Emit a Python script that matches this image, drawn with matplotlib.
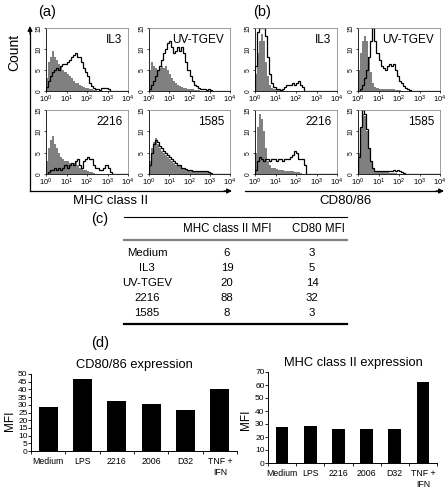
import numpy as np
import matplotlib
matplotlib.use("Agg")
import matplotlib.pyplot as plt

plt.rcParams['font.family'] = ['Liberation Sans', 'DejaVu Sans']
plt.rcParams['mathtext.fontset'] = 'custom'
plt.rcParams['mathtext.rm'] = 'Liberation Sans'
plt.rcParams['mathtext.it'] = 'Liberation Sans'

W, H = 448, 488

# ---- histogram data (counts per 0.1 decade bin, 10^0 .. 10^4) ----
nbins = 40
edges = 10 ** np.linspace(0, 4, nbins + 1)

a_il3_gray = [3, 7, 8, 9.5, 8, 7.5, 6.5, 6, 5, 4.5, 4, 3.5, 3, 2.5, 2, 1.8, 1.5, 1.2, 1, 0.8, 0.6, 0.5, 0.4, 0.3, 0.2]
a_il3_black = [1, 2.5, 3.5, 4.5, 5, 5.5, 5, 6, 6.5, 6.5, 7, 7.5, 8, 8.5, 9, 8, 8, 7, 5.5, 4.5, 3.5, 2, 1.2, 0.8, 0.5, 0.5, 0.3, 0.8, 0.8, 0.8, 0.5]
a_uv_gray = [5, 7, 6, 5.5, 5, 5.5, 6, 5.5, 6, 5, 4, 3, 2.5, 2, 1.5, 1.2, 1, 0.8, 0.6, 0.5, 0.5, 0.4, 0.3, 0.3, 0.2]
a_uv_black = [0.5, 1.5, 2.5, 3.5, 5, 6, 7.5, 9, 10, 11.5, 12, 10.5, 9, 9.5, 10.5, 9.5, 10.5, 9, 7, 5, 3.5, 2.5, 1.5, 1.2, 0.8, 0.5, 0.5, 0.5, 0.3, 0.5, 0.3]
a_2216_gray = [3, 6, 8, 9, 7, 6, 5, 4, 3.5, 3, 3, 2.5, 2, 2.5, 3, 2, 1.5, 1.5, 1, 1, 0.8, 0.5, 0.5, 0.3]
a_2216_black = [0, 0.5, 1, 1, 1.5, 1, 1.5, 1, 1.5, 2, 1.5, 2, 2.5, 2, 3, 3.5, 2, 1.5, 3, 3.5, 4, 3.5, 3.5, 2, 1.5, 1.5, 1, 1, 1.5, 2, 1.5, 0.5]
a_1585_gray = [3, 6, 7.5, 8.5, 7, 6, 5.5, 5, 4.5, 4, 3.5, 3, 2.5, 2.2, 2, 1.8, 1.5, 1.2, 1, 1, 0.8, 0.7, 0.6, 0.6, 0.5, 0.5, 0.5, 0.4, 0.4, 0.3]
a_1585_black = [2, 5, 7, 8, 7.5, 6.5, 6, 5.5, 5, 4.5, 4, 3.5, 3, 2.5, 2, 2, 1.5, 1.5, 1.2, 1, 1, 0.8, 0.8, 0.8, 0.8, 0.6, 0.8, 0.8, 0.6, 0.5, 0.3]

b_il3_gray = [4, 9, 12, 13.5, 12, 7, 3.5, 1.5, 0.8, 0.5, 0.4, 0.3, 0.3, 0.2]
b_il3_black = [6, 14, 15, 15, 15, 13, 8, 4, 2, 1, 0.5, 0.5, 0.3, 0.5, 1, 1.5, 1.5, 1.5, 2, 1.5, 2, 2.5, 1.5, 1]
b_uv_gray = [5, 9, 12, 13, 12, 8, 4.5, 2, 1, 0.7, 0.5, 0.5, 0.5, 0.4, 0.5, 0.5, 0.4, 0.4, 0.3, 0.3, 0.3]
b_uv_black = [0, 0.5, 1.5, 3, 5, 8, 12, 15, 12, 9, 7.5, 6, 5.5, 5, 6, 6.5, 6, 6.5, 5, 3.5, 2.5, 1.8, 1.2, 0.8, 0.5, 0.3]
b_2216_gray = [5, 11, 14, 13, 10, 6, 3, 2, 1.5, 1.5, 1.2, 1, 1, 1, 0.8, 0.8, 0.8, 0.6, 0.6, 0.5, 0.5, 0.4, 0.3]
b_2216_black = [1, 3, 4, 3.5, 3, 3.5, 3.5, 3, 3.5, 3.5, 3, 3.5, 3.5, 3, 3.5, 3.5, 3.5, 4, 4.5, 5.5, 5, 3.5, 3.5, 3.5, 2]
b_1585_gray = [5, 11, 14, 13.5, 10, 6, 3, 1.2, 0.6, 0.5, 0.5, 0.4, 0.4, 0.4, 0.4, 0.3, 0.3, 0.3, 0.3]
b_1585_black = [4, 11, 15, 14, 10.5, 6, 3, 1.5, 0.8, 0.8, 0.6, 0.8, 0.6, 0.8, 0.6, 0.8, 0.8, 1, 0.8, 1, 0.6, 0.5, 0.3]

hist_labels = ['IL3', 'UV-TGEV', '2216', '1585']

# ---- table data ----
table_rows = ['Medium', 'IL3', 'UV-TGEV', '2216', '1585']
mhc_mfi = [6, 19, 20, 88, 8]
cd80_mfi = [3, 5, 14, 32, 3]

# ---- bar chart data ----
bar_cats = ['Medium', 'LPS', '2216', '2006', 'D32', 'TNF +\nIFN']
cd80_expr = [28.5, 47, 32.5, 30.5, 26.5, 40]
mhc_expr = [28, 28.5, 26, 26, 26, 62]


def px_axes(fig, l, t, r, b):
    return fig.add_axes([l / W, 1 - b / H, (r - l) / W, (b - t) / H])


def pad(v):
    return np.pad(np.array(v, dtype=float), (0, nbins - len(v)))


fig = plt.figure(figsize=(W / 100, H / 100), dpi=100)

# overlay for labels, arrows, table
ov = fig.add_axes([0, 0, 1, 1])
ov.set_xlim(0, W)
ov.set_ylim(H, 0)
ov.axis('off')


def hist_panel(box, gray, black, label):
    ax = px_axes(fig, *box)
    g = pad(gray)
    ax.fill_between(edges, np.append(g, g[-1]), step='post', color='#808080', lw=0)
    ax.stairs(pad(black), edges, color='k', lw=0.9)
    ax.set_xscale('log')
    ax.set_xlim(1, 1e4)
    ax.set_ylim(0, 15)
    ax.set_xticks([1, 10, 100, 1000, 10000])
    ax.set_xticklabels(['$10^{%d}$' % i for i in range(5)])
    ax.xaxis.set_minor_locator(matplotlib.ticker.NullLocator())
    ax.set_yticks([0, 5, 10, 15])
    ax.set_yticklabels(['0', '5', '10', '15'], rotation=90, va='center')
    ax.tick_params(axis='x', labelsize=5.5, length=1.5, width=0.5, pad=0.5)
    ax.tick_params(axis='y', labelsize=4.8, length=1.5, width=0.5, pad=1)
    for s in ['top', 'right']:
        ax.spines[s].set_color('0.55')
        ax.spines[s].set_linewidth(0.6)
    for s in ['left', 'bottom']:
        ax.spines[s].set_linewidth(0.6)
    ax.text(0.93, 0.9, label, transform=ax.transAxes, ha='right', va='top', fontsize=8.5)
    return ax


hist_panel((46, 28, 128, 91), a_il3_gray, a_il3_black, hist_labels[0])
hist_panel((149, 28, 230, 91), a_uv_gray, a_uv_black, hist_labels[1])
hist_panel((46, 110, 128, 174), a_2216_gray, a_2216_black, hist_labels[2])
hist_panel((149, 110, 230, 174), a_1585_gray, a_1585_black, hist_labels[3])
hist_panel((255, 28, 337, 91), b_il3_gray, b_il3_black, hist_labels[0])
hist_panel((358, 28, 440, 91), b_uv_gray, b_uv_black, hist_labels[1])
hist_panel((255, 110, 337, 174), b_2216_gray, b_2216_black, hist_labels[2])
hist_panel((358, 110, 440, 174), b_1585_gray, b_1585_black, hist_labels[3])

# axis arrows
arr = dict(arrowstyle='-|>', lw=0.9, color='k', mutation_scale=7, shrinkA=0, shrinkB=0)
ov.plot([30, 226], [191, 191], color='k', lw=0.9)
ov.annotate('', xy=(232, 191), xytext=(224, 191), arrowprops=arr)
ov.plot([30, 30], [191, 32], color='k', lw=0.9)
ov.annotate('', xy=(30, 26), xytext=(30, 34), arrowprops=arr)
ov.plot([245, 438], [191, 191], color='k', lw=0.9)
ov.annotate('', xy=(444, 191), xytext=(436, 191), arrowprops=arr)

ov.text(47, 12, '(a)', fontsize=10.5, ha='center', va='center')
ov.text(262, 12, '(b)', fontsize=10.5, ha='center', va='center')
ov.text(14, 52, 'Count', fontsize=10, rotation=90, ha='center', va='center')
ov.text(111, 201, 'MHC class II', fontsize=9.5, ha='center', va='center')
ov.text(345, 201, 'CD80/86', fontsize=9.5, ha='center', va='center')

# table (c)
ov.text(100, 219, '(c)', fontsize=10.5, ha='center', va='center')
ov.plot([124, 347], [217, 217], color='k', lw=0.8)
ov.text(227, 229, 'MHC class II MFI', fontsize=8.3, ha='center', va='center')
ov.text(318, 229, 'CD80 MFI', fontsize=8.3, ha='center', va='center')
ov.plot([124, 347], [240, 240], color='0.5', lw=1.6)
for i, name in enumerate(table_rows):
    y = 253 + 15 * i
    ov.text(147, y, name, fontsize=8.2, ha='center', va='center')
    ov.text(227, y, str(mhc_mfi[i]), fontsize=8.2, ha='center', va='center')
    ov.text(312, y, str(cd80_mfi[i]), fontsize=8.2, ha='center', va='center')
ov.plot([124, 347], [324, 324], color='k', lw=1.6)

# bar charts (d)
ov.text(100, 343, '(d)', fontsize=10.5, ha='center', va='center')


def bar_panel(box, vals, ymax, step, title, title_xy, mfi_xy, width):
    ax = px_axes(fig, *box)
    x = np.arange(len(bar_cats))
    ax.bar(x, vals, width=width, color='k')
    ax.set_xlim(-0.5, len(bar_cats) - 0.5)
    ax.set_ylim(0, ymax)
    ax.set_yticks(np.arange(0, ymax + 1, step))
    ax.set_xticks(x)
    ax.set_xticklabels(bar_cats)
    ax.set_xticks(np.arange(-0.5, len(bar_cats)), minor=True)
    ax.tick_params(axis='x', which='major', length=0, labelsize=6.3, pad=4)
    ax.tick_params(axis='x', which='minor', length=2.5, width=0.6)
    ax.tick_params(axis='y', labelsize=6, length=2, width=0.6, pad=0.5)
    for lbl in ax.get_xticklabels():
        lbl.set_linespacing(1.3)
        lbl.set_va('top')
    ax.spines['top'].set_visible(False)
    ax.spines['right'].set_visible(False)
    ax.spines['left'].set_linewidth(0.7)
    ax.spines['bottom'].set_linewidth(0.7)
    ov.text(title_xy[0], title_xy[1], title, fontsize=9.3, ha='center', va='center')
    ov.text(mfi_xy[0], mfi_xy[1], 'MFI', fontsize=8.5, rotation=90, ha='center', va='center')
    return ax


bar_panel((31, 374, 237, 451), cd80_expr, 50, 5, 'CD80/86 expression', (134, 365), (10, 421), 0.55)
bar_panel((268, 372, 437, 463), mhc_expr, 70, 10, 'MHC class II expression', (353, 363), (246, 420), 0.45)

fig.savefig('out.png', dpi=100)
